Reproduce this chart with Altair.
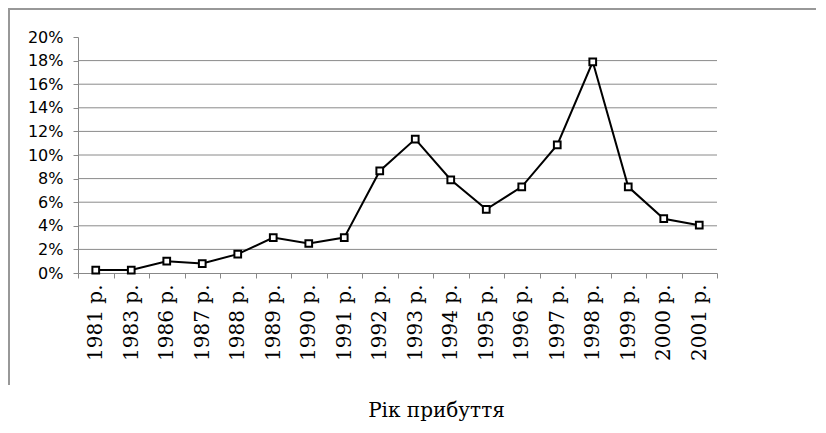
import altair as alt
import pandas as pd

years = ["1981 р.", "1983 р.", "1986 р.", "1987 р.", "1988 р.", "1989 р.",
         "1990 р.", "1991 р.", "1992 р.", "1993 р.", "1994 р.", "1995 р.",
         "1996 р.", "1997 р.", "1998 р.", "1999 р.", "2000 р.", "2001 р."]
shares = [0.25, 0.25, 1.0, 0.8, 1.6, 3.0, 2.5, 3.0, 8.65, 11.35, 7.9, 5.4,
          7.3, 10.85, 17.9, 7.3, 4.6, 4.05]
y_ticks = [0, 2, 4, 6, 8, 10, 12, 14, 16, 18, 20]
grid_levels = [2, 4, 6, 8, 10, 12, 14, 16, 18]

df = pd.DataFrame({"year": years, "share": [v / 100 for v in shares]})
grid_df = pd.DataFrame({"share": [v / 100 for v in grid_levels]})

x = alt.X("year:N", sort=years,
          scale=alt.Scale(type="band", paddingInner=0, paddingOuter=0),
          axis=alt.Axis(title="Рік прибуття", labelAngle=-90, labelAlign="right",
                        labelBaseline="middle", labelFont="DejaVu Serif",
                        labelFontSize=20, labelColor="black", labelPadding=6,
                        tickBand="extent", tickSize=5, tickColor="#888888",
                        domainColor="#888888", grid=False,
                        titleFont="DejaVu Serif", titleFontSize=20,
                        titleFontWeight="normal", titleColor="black",
                        titleX=358, titleY=143, titleBaseline="alphabetic"))
y_scale = alt.Scale(domain=[0, 0.2])
y_axis = alt.Axis(title=None, format=".0%", values=[v / 100 for v in y_ticks],
                  labelFont="DejaVu Sans", labelFontSize=16, labelColor="black",
                  labelPadding=10, tickSize=5, tickColor="#888888",
                  domainColor="#888888", grid=False)
y = alt.Y("share:Q", scale=y_scale, axis=y_axis)

grid = alt.Chart(grid_df).mark_rule(color="#8a8a8a", strokeWidth=1).encode(y=y)
line = alt.Chart(df).mark_line(color="black", strokeWidth=2).encode(x=x, y=y)
pts = alt.Chart(df).mark_point(shape="square", filled=False, size=45, color="black",
                               strokeWidth=2, fill="white", fillOpacity=1, opacity=1).encode(x=x, y=y)

frame_top = alt.Chart(df).mark_rule(color="#999999", strokeWidth=1.5).encode(
    x=alt.value(-70), x2=alt.value(738), y=alt.value(-28))
frame_left = alt.Chart(df).mark_rule(color="#999999", strokeWidth=1.5).encode(
    x=alt.value(-69), y=alt.value(-28), y2=alt.value(348))

chart = alt.layer(grid, line, pts, frame_top, frame_left).properties(
    width=639, height=236,
    background="white",
    autosize=alt.AutoSizeParams(type="none"),
    padding={"left": 70, "top": 29, "right": 101, "bottom": 152},
).configure_view(strokeWidth=0, stroke="white", fill="white").configure_axis(grid=False)

chart.save("out.html", embed_options={"renderer": "svg", "actions": False})
